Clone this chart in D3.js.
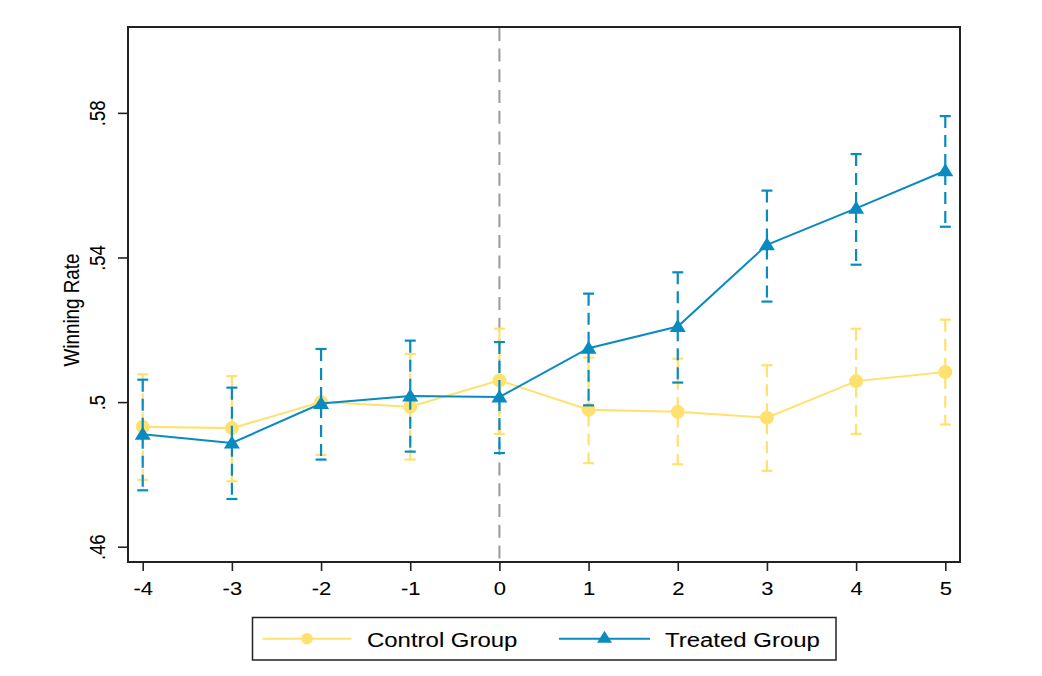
<!DOCTYPE html>
<html>
<head>
<meta charset="utf-8">
<script src="https://cdn.jsdelivr.net/npm/d3@7"></script>
<style>
  html, body { margin: 0; padding: 0; background: #fff; }
  svg { display: block; }
  text { font-family: "Liberation Sans", Arial, Helvetica, sans-serif; fill: #000; stroke: #000; stroke-width: 0.08px; }
</style>
</head>
<body>
<svg id="chart" width="1042" height="676"></svg>
<script>
// ---- data ----
const periods = [-4, -3, -2, -1, 0, 1, 2, 3, 4, 5];
const controlMean = [0.4932, 0.4928, 0.5000, 0.4987, 0.5060, 0.4979, 0.4973, 0.4957, 0.5058, 0.5083];
const controlLo   = [0.4785, 0.4781, 0.4854, 0.4841, 0.4912, 0.4831, 0.4828, 0.4810, 0.4912, 0.4938];
const controlHi   = [0.5077, 0.5072, 0.5146, 0.5133, 0.5203, 0.5123, 0.5120, 0.5102, 0.5203, 0.5228];
const treatedMean = [0.4911, 0.4887, 0.4996, 0.5017, 0.5014, 0.5149, 0.5209, 0.5435, 0.5536, 0.5640];
const treatedLo   = [0.4756, 0.4732, 0.4841, 0.4863, 0.4859, 0.4991, 0.5054, 0.5278, 0.5380, 0.5485];
const treatedHi   = [0.5062, 0.5040, 0.5147, 0.5170, 0.5166, 0.5300, 0.5359, 0.5585, 0.5686, 0.5791];
const yTicks = [0.46, 0.50, 0.54, 0.58];
const yTickLabels = [".46", ".5", ".54", ".58"];
const xTickLabels = ["-4", "-3", "-2", "-1", "0", "1", "2", "3", "4", "5"];
const seriesNames = ["Control Group", "Treated Group"];
const yTitle = "Winning Rate";
const eventPeriod = 0;

// ---- layout ----
const L = 128, R = 960, T = 27, B = 562;
const SX = 1.17;
const yellow = "#ffe16f";
const blue = "#0a8bbf";

const svg = d3.select("#chart");
const x = d3.scaleLinear().domain([-4.165, 5.165]).range([L, R]);
const y = d3.scaleLinear().domain([0.45577, 0.60375]).range([B, T]);

// vertical reference line at the event period
svg.append("line")
  .attr("x1", x(eventPeriod)).attr("x2", x(eventPeriod))
  .attr("y1", y(0.6035)).attr("y2", B)
  .attr("stroke", "#9a9a9a").attr("stroke-width", 2)
  .attr("stroke-dasharray", "13,7.7");

const series = [
  { name: seriesNames[0], mean: controlMean, lo: controlLo, hi: controlHi, color: yellow, marker: "circle" },
  { name: seriesNames[1], mean: treatedMean, lo: treatedLo, hi: treatedHi, color: blue, marker: "triangle" }
];
const triPath = (cx, cy, w, h) => `M${cx},${cy - h * 0.58}L${cx + w / 2},${cy + h * 0.42}L${cx - w / 2},${cy + h * 0.42}Z`;

series.forEach(s => {
  const g = svg.append("g");
  const data = periods.map((p, i) => ({ p, m: s.mean[i], lo: s.lo[i], hi: s.hi[i] }));
  const eb = g.append("g");
  eb.selectAll("line.v").data(data).enter().append("line")
    .attr("x1", d => x(d.p)).attr("x2", d => x(d.p))
    .attr("y1", d => y(d.hi)).attr("y2", d => y(d.lo))
    .attr("stroke", s.color).attr("stroke-width", 2.2)
    .attr("stroke-dasharray", "12,7");
  ["hi", "lo"].forEach(k => {
    eb.selectAll("line.c" + k).data(data).enter().append("line")
      .attr("x1", d => x(d.p) - 5.5).attr("x2", d => x(d.p) + 5.5)
      .attr("y1", d => y(d[k])).attr("y2", d => y(d[k]))
      .attr("stroke", s.color).attr("stroke-width", 2.2);
  });
  g.append("path").datum(data)
    .attr("d", d3.line().x(d => x(d.p)).y(d => y(d.m)))
    .attr("fill", "none").attr("stroke", s.color).attr("stroke-width", 2);
  if (s.marker === "circle") {
    g.selectAll("circle").data(data).enter().append("circle")
      .attr("cx", d => x(d.p)).attr("cy", d => y(d.m)).attr("r", 7)
      .attr("fill", s.color);
  } else {
    g.selectAll("path.tri").data(data).enter().append("path")
      .attr("d", d => triPath(x(d.p), y(d.m), 16, 13))
      .attr("fill", s.color);
  }
});

// plot frame
svg.append("rect").attr("x", L).attr("y", T).attr("width", R - L).attr("height", B - T)
  .attr("fill", "none").attr("stroke", "#222").attr("stroke-width", 2);

// y axis
const yAxis = svg.append("g").attr("transform", `translate(${L},0)`)
  .call(d3.axisLeft(y).tickValues(yTicks).tickSize(10)
    .tickFormat((d, i) => yTickLabels[i]));
yAxis.select(".domain").remove();
yAxis.selectAll(".tick line").attr("stroke", "#222").attr("stroke-width", 1.6);
yAxis.selectAll(".tick text")
  .attr("x", null).attr("dy", null).attr("y", 0)
  .attr("text-anchor", "middle")
  .attr("font-size", 18.5)
  .attr("transform", `translate(-23,0) scale(${SX},1) rotate(-90)`);

// x axis
const xAxis = svg.append("g").attr("transform", `translate(0,${B})`)
  .call(d3.axisBottom(x).tickValues(periods).tickSize(9)
    .tickFormat((d, i) => xTickLabels[i]));
xAxis.select(".domain").remove();
xAxis.selectAll(".tick line").attr("stroke", "#222").attr("stroke-width", 1.6);
xAxis.selectAll(".tick text")
  .attr("y", 0).attr("dy", null)
  .attr("text-anchor", "middle")
  .attr("font-size", 18.8)
  .attr("transform", `translate(0,33) scale(${SX},1)`);

// y title
svg.append("text")
  .attr("transform", `translate(79,310) scale(${SX},1) rotate(-90)`)
  .attr("text-anchor", "middle")
  .attr("font-size", 18.8)
  .text(yTitle);

// legend
const lg = svg.append("g");
lg.append("rect").attr("x", 252.5).attr("y", 617.5).attr("width", 583.5).attr("height", 42.5)
  .attr("fill", "#fff").attr("stroke", "#222").attr("stroke-width", 1.5);
const legendItems = [
  { s: series[0], x0: 262.5, x1: 351.5, tx: 367 },
  { s: series[1], x0: 559, x1: 650, tx: 665 }
];
const ly = 638.7;
legendItems.forEach(it => {
  lg.append("line").attr("x1", it.x0).attr("x2", it.x1).attr("y1", ly).attr("y2", ly)
    .attr("stroke", it.s.color).attr("stroke-width", 2);
  const cx = (it.x0 + it.x1) / 2;
  if (it.s.marker === "circle") {
    lg.append("circle").attr("cx", cx).attr("cy", ly).attr("r", 5.8).attr("fill", it.s.color);
  } else {
    lg.append("path").attr("d", triPath(cx, ly - 1, 15, 12)).attr("fill", it.s.color);
  }
  lg.append("text")
    .attr("transform", `translate(${it.tx},646.5) scale(1.21,1)`)
    .attr("font-size", 19.8)
    .text(it.s.name);
});
</script>
</body>
</html>
